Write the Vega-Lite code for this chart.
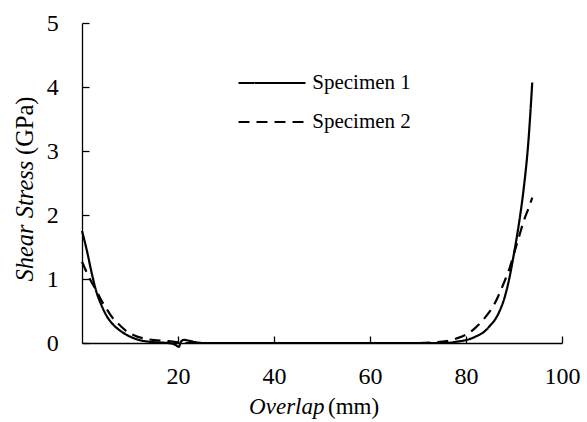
{
  "$schema": "https://vega.github.io/schema/vega-lite/v6.json",
  "width": 480,
  "height": 320,
  "autosize": "none",
  "padding": {"left": 82, "top": 23, "right": 25, "bottom": 79},
  "background": "white",
  "config": {
    "view": {"stroke": null},
    "font": "Liberation Serif",
    "axis": {
      "grid": false,
      "domainColor": "black",
      "domainWidth": 1.3,
      "tickColor": "black",
      "tickWidth": 1.3,
      "labelColor": "black",
      "titleColor": "black",
      "labelFont": "Liberation Serif",
      "titleFont": "Liberation Serif",
      "labelFontSize": 24,
      "titleFontSize": 23,
      "titleFontWeight": "normal"
    },
    "legend": {
      "labelFont": "Liberation Serif",
      "labelFontSize": 21,
      "labelColor": "black"
    }
  },
  "datasets": {
    "curves": [
      {"specimen": "Specimen 1", "overlap": 0, "stress": 1.75},
      {"specimen": "Specimen 1", "overlap": 1, "stress": 1.45},
      {"specimen": "Specimen 1", "overlap": 2, "stress": 1.1},
      {"specimen": "Specimen 1", "overlap": 3, "stress": 0.8},
      {"specimen": "Specimen 1", "overlap": 4, "stress": 0.6},
      {"specimen": "Specimen 1", "overlap": 5, "stress": 0.44},
      {"specimen": "Specimen 1", "overlap": 6, "stress": 0.33},
      {"specimen": "Specimen 1", "overlap": 7, "stress": 0.25},
      {"specimen": "Specimen 1", "overlap": 8, "stress": 0.19},
      {"specimen": "Specimen 1", "overlap": 9, "stress": 0.14},
      {"specimen": "Specimen 1", "overlap": 10, "stress": 0.1},
      {"specimen": "Specimen 1", "overlap": 12, "stress": 0.045},
      {"specimen": "Specimen 1", "overlap": 14, "stress": 0.02},
      {"specimen": "Specimen 1", "overlap": 16, "stress": 0.008},
      {"specimen": "Specimen 1", "overlap": 18, "stress": 0.0},
      {"specimen": "Specimen 1", "overlap": 19.5, "stress": -0.03},
      {"specimen": "Specimen 1", "overlap": 20.2, "stress": -0.06},
      {"specimen": "Specimen 1", "overlap": 20.6, "stress": 0.02},
      {"specimen": "Specimen 1", "overlap": 21.3, "stress": 0.05},
      {"specimen": "Specimen 1", "overlap": 22.3, "stress": 0.035},
      {"specimen": "Specimen 1", "overlap": 23.5, "stress": 0.015},
      {"specimen": "Specimen 1", "overlap": 25, "stress": 0.0},
      {"specimen": "Specimen 1", "overlap": 30, "stress": 0.0},
      {"specimen": "Specimen 1", "overlap": 40, "stress": 0.0},
      {"specimen": "Specimen 1", "overlap": 50, "stress": 0.0},
      {"specimen": "Specimen 1", "overlap": 60, "stress": 0.0},
      {"specimen": "Specimen 1", "overlap": 70, "stress": 0.0},
      {"specimen": "Specimen 1", "overlap": 76, "stress": 0.0},
      {"specimen": "Specimen 1", "overlap": 78, "stress": 0.02},
      {"specimen": "Specimen 1", "overlap": 80, "stress": 0.045},
      {"specimen": "Specimen 1", "overlap": 82, "stress": 0.1},
      {"specimen": "Specimen 1", "overlap": 84, "stress": 0.19},
      {"specimen": "Specimen 1", "overlap": 85, "stress": 0.27},
      {"specimen": "Specimen 1", "overlap": 86, "stress": 0.36},
      {"specimen": "Specimen 1", "overlap": 87, "stress": 0.5},
      {"specimen": "Specimen 1", "overlap": 88, "stress": 0.7},
      {"specimen": "Specimen 1", "overlap": 89, "stress": 1.0},
      {"specimen": "Specimen 1", "overlap": 90, "stress": 1.4},
      {"specimen": "Specimen 1", "overlap": 91, "stress": 1.85},
      {"specimen": "Specimen 1", "overlap": 92, "stress": 2.4},
      {"specimen": "Specimen 1", "overlap": 93, "stress": 3.15},
      {"specimen": "Specimen 1", "overlap": 93.8, "stress": 4.07},
      {"specimen": "Specimen 2", "overlap": 0, "stress": 1.27},
      {"specimen": "Specimen 2", "overlap": 1, "stress": 1.1},
      {"specimen": "Specimen 2", "overlap": 2, "stress": 0.95},
      {"specimen": "Specimen 2", "overlap": 3, "stress": 0.82},
      {"specimen": "Specimen 2", "overlap": 4, "stress": 0.67},
      {"specimen": "Specimen 2", "overlap": 5, "stress": 0.55},
      {"specimen": "Specimen 2", "overlap": 6, "stress": 0.43},
      {"specimen": "Specimen 2", "overlap": 7, "stress": 0.34},
      {"specimen": "Specimen 2", "overlap": 8, "stress": 0.27},
      {"specimen": "Specimen 2", "overlap": 9, "stress": 0.2},
      {"specimen": "Specimen 2", "overlap": 10, "stress": 0.15},
      {"specimen": "Specimen 2", "overlap": 11.5, "stress": 0.1},
      {"specimen": "Specimen 2", "overlap": 13, "stress": 0.07},
      {"specimen": "Specimen 2", "overlap": 15, "stress": 0.045},
      {"specimen": "Specimen 2", "overlap": 18, "stress": 0.03},
      {"specimen": "Specimen 2", "overlap": 20, "stress": 0.01},
      {"specimen": "Specimen 2", "overlap": 22, "stress": 0.0},
      {"specimen": "Specimen 2", "overlap": 30, "stress": 0.0},
      {"specimen": "Specimen 2", "overlap": 40, "stress": 0.0},
      {"specimen": "Specimen 2", "overlap": 50, "stress": 0.0},
      {"specimen": "Specimen 2", "overlap": 60, "stress": 0.0},
      {"specimen": "Specimen 2", "overlap": 70, "stress": 0.0},
      {"specimen": "Specimen 2", "overlap": 73, "stress": 0.01},
      {"specimen": "Specimen 2", "overlap": 76, "stress": 0.03},
      {"specimen": "Specimen 2", "overlap": 78, "stress": 0.07},
      {"specimen": "Specimen 2", "overlap": 80, "stress": 0.13},
      {"specimen": "Specimen 2", "overlap": 82, "stress": 0.24},
      {"specimen": "Specimen 2", "overlap": 84, "stress": 0.4},
      {"specimen": "Specimen 2", "overlap": 86, "stress": 0.62},
      {"specimen": "Specimen 2", "overlap": 87, "stress": 0.78},
      {"specimen": "Specimen 2", "overlap": 88, "stress": 0.96},
      {"specimen": "Specimen 2", "overlap": 89, "stress": 1.15},
      {"specimen": "Specimen 2", "overlap": 90, "stress": 1.4},
      {"specimen": "Specimen 2", "overlap": 91, "stress": 1.65},
      {"specimen": "Specimen 2", "overlap": 92, "stress": 1.9},
      {"specimen": "Specimen 2", "overlap": 93, "stress": 2.1},
      {"specimen": "Specimen 2", "overlap": 93.8, "stress": 2.27}
    ]
  },
  "data": {"name": "curves"},
  "layer": [
    {
      "mark": {"type": "line", "strokeWidth": 2.2, "color": "black", "interpolate": "monotone", "clip": false},
      "encoding": {
        "x": {
          "field": "overlap", "type": "quantitative",
          "scale": {"domain": [0, 100], "nice": false, "zero": false},
          "axis": {
            "orient": "bottom",
            "values": [20, 40, 60, 80, 100],
            "tickSize": -7,
            "labelPadding": 28.5,
            "labelFlush": false,
            "title": "Overlap",
            "titleFontStyle": "italic",
            "titleAlign": "left",
            "titleAnchor": null,
            "titleX": 166.6,
            "titleY": 70.7,
            "titleBaseline": "alphabetic"
          }
        },
        "y": {
          "field": "stress", "type": "quantitative",
          "scale": {"domain": [0, 5], "nice": false},
          "axis": {
            "orient": "left",
            "values": [0, 1, 2, 3, 4, 5],
            "tickSize": -7,
            "labelPadding": 30.7,
            "labelFlush": false,
            "title": "Shear Stress",
            "titleFontSize": 24.5,
            "titleFontStyle": "italic",
            "titleAngle": -90,
            "titleAlign": "left",
            "titleAnchor": null,
            "titleX": -50,
            "titleY": 258,
            "titleBaseline": "alphabetic"
          }
        },
        "strokeDash": {
          "field": "specimen", "type": "nominal",
          "scale": {"domain": ["Specimen 1", "Specimen 2"], "range": [[1, 0], [11, 7]]},
          "legend": {
            "title": null,
            "orient": "none",
            "legendX": 178.5,
            "legendY": 48.5,
            "padding": 0,
            "symbolType": "M-3.35,0H3.35",
            "symbolSize": 400,
            "symbolStrokeWidth": 2.2,
            "symbolStrokeColor": "black",
            "labelOffset": 28.8,
            "rowPadding": 17
          }
        }
      }
    },
    {
      "mark": {"type": "point", "opacity": 0},
      "encoding": {
        "x": {
          "field": "overlap", "type": "quantitative",
          "axis": {
            "orient": "bottom",
            "labels": false, "ticks": false, "domain": false,
            "title": "(mm)",
            "titleAlign": "right",
            "titleAnchor": null,
            "titleX": 296.6,
            "titleY": 70.7,
            "titleBaseline": "alphabetic"
          }
        },
        "y": {
          "field": "stress", "type": "quantitative",
          "axis": {
            "orient": "left",
            "labels": false, "ticks": false, "domain": false,
            "title": "(GPa)",
            "titleFontSize": 24.5,
            "titleAngle": -90,
            "titleAlign": "right",
            "titleAnchor": null,
            "titleX": -50,
            "titleY": 73,
            "titleBaseline": "alphabetic"
          }
        }
      }
    }
  ],
  "resolve": {"axis": {"x": "independent", "y": "independent"}}
}
